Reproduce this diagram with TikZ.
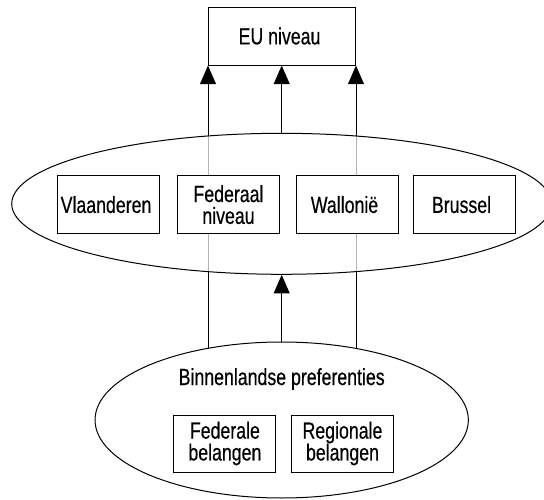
\documentclass[tikz,border=0pt]{standalone}
\usepackage{fontspec}
\setmainfont{Liberation Sans}[FakeStretch=0.76, FakeBold=0.4]
\usetikzlibrary{arrows.meta,shapes.geometric}
\pgfdeclarelayer{bg}
\pgfsetlayers{bg,main}
\tikzset{
  box/.style={draw, fill=white, line width=0.75pt, inner sep=0pt, align=center,
    minimum width=76.5pt, minimum height=44pt},
  oval/.style={draw, ellipse, line width=0.75pt, inner sep=0pt},
  arr/.style={line width=0.75pt, -{Triangle[width=12pt,length=14pt]}}
}
\begin{document}
\begin{tikzpicture}[x=0.75pt, y=-0.75pt, font=\fontsize{17.5}{16.4}\selectfont]
    \useasboundingbox (0,0) rectangle (544,500);

    \node [box, minimum width=110.25pt, minimum height=43.5pt] (eu) at (282,36) { EU niveau };

    \node [oval, fill=white, minimum width=280pt, minimum height=117pt] (binnen) at (281.7,420) {};
    \node [oval, fill=white, fill opacity=0.7, text opacity=1, minimum width=405pt, minimum height=105.75pt] (lidstaat) at (281.7,203.8) {};

    \node [box] (vl) at (108.5,204.6) { Vlaanderen };
    \node [box] (fed) at (228.5,204.6) { Federaal\\niveau };
    \node [box] (wal) at (347,204.6) { Wallonië };
    \node [box] (bru) at (464,204.6) { Brussel };

    \node (pref) at (281.7,379) { Binnenlandse preferenties };
    \node [box, minimum height=42.75pt] (federale) at (224.9,443.5) { Federale\\belangen };
    \node [box, minimum height=42.75pt] (regionale) at (342.5,443.5) { Regionale\\belangen };

    \begin{pgfonlayer}{bg}    % long lines run behind both ovals
        \draw [arr] (eu.south west |- binnen.center) -- (eu.south west);
        \draw [arr] (eu.south east |- binnen.center) -- (eu.south east);
    \end{pgfonlayer}

    \draw [arr] (binnen.north) -- (lidstaat.south);
    \draw [arr] (lidstaat.north) -- (lidstaat.north |- eu.south);
\end{tikzpicture}
\end{document}
